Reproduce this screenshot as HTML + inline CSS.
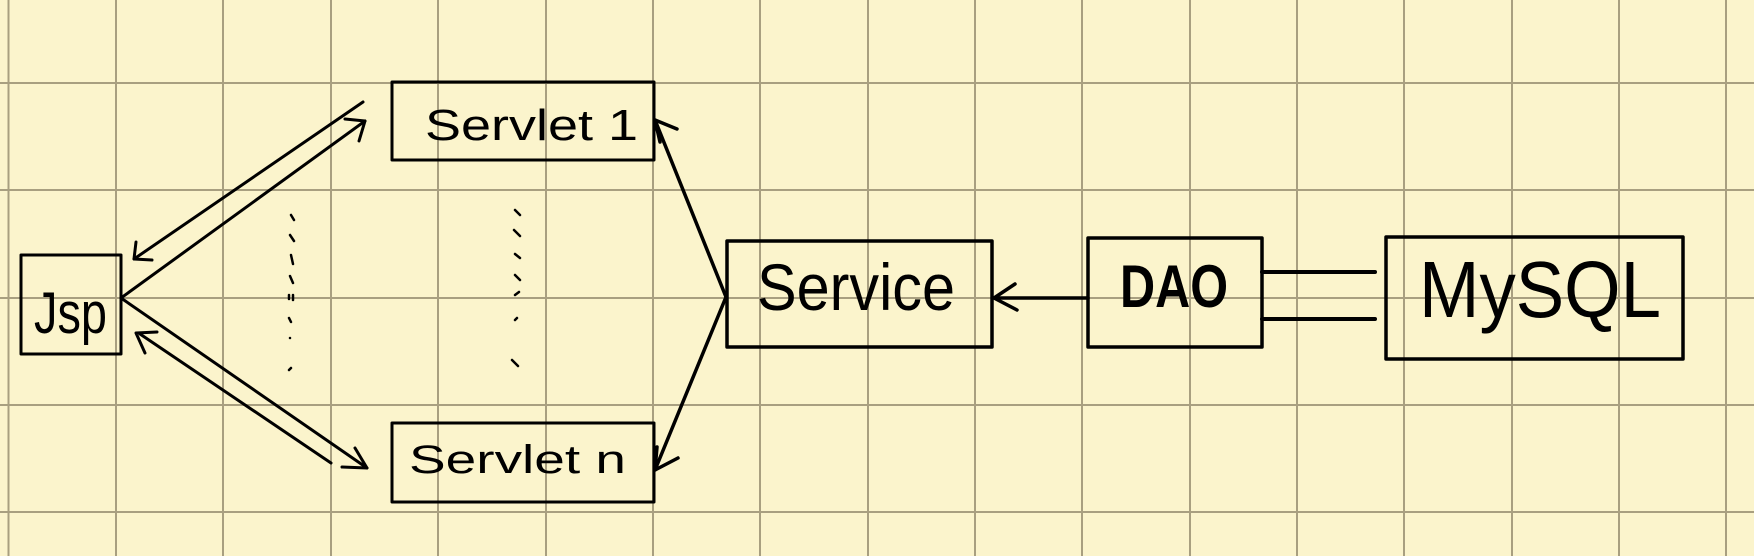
<!DOCTYPE html>
<html><head><meta charset="utf-8"><style>
html,body{margin:0;padding:0;background:#fbf4cc;}
svg{display:block;}
text{font-family:"Liberation Sans",sans-serif;fill:#000;}
</style></head><body>
<svg width="1754" height="556" viewBox="0 0 1754 556" xmlns="http://www.w3.org/2000/svg">
<rect width="1754" height="556" fill="#fbf4cc"/>
<g stroke="#a89f80" stroke-width="2">
<line x1="8.5" y1="0" x2="8.5" y2="556"/><line x1="116" y1="0" x2="116" y2="556"/><line x1="223" y1="0" x2="223" y2="556"/><line x1="331" y1="0" x2="331" y2="556"/><line x1="438" y1="0" x2="438" y2="556"/><line x1="546" y1="0" x2="546" y2="556"/><line x1="653" y1="0" x2="653" y2="556"/><line x1="760" y1="0" x2="760" y2="556"/><line x1="868" y1="0" x2="868" y2="556"/><line x1="975" y1="0" x2="975" y2="556"/><line x1="1082" y1="0" x2="1082" y2="556"/><line x1="1190" y1="0" x2="1190" y2="556"/><line x1="1297" y1="0" x2="1297" y2="556"/><line x1="1404" y1="0" x2="1404" y2="556"/><line x1="1512" y1="0" x2="1512" y2="556"/><line x1="1619" y1="0" x2="1619" y2="556"/><line x1="1726" y1="0" x2="1726" y2="556"/>
<line x1="0" y1="83" x2="1754" y2="83"/><line x1="0" y1="190" x2="1754" y2="190"/><line x1="0" y1="298" x2="1754" y2="298"/><line x1="0" y1="405" x2="1754" y2="405"/><line x1="0" y1="512" x2="1754" y2="512"/>
</g>
<g fill="none" stroke="#000" stroke-width="3" stroke-linecap="round" stroke-linejoin="round">
<rect x="21" y="255" width="100" height="99"/>
<rect x="392" y="82" width="262" height="78"/>
<rect x="392" y="423" width="262" height="79"/>
<rect x="727" y="241" width="265" height="106" stroke-width="3.5"/>
<rect x="1088" y="238" width="174" height="109" stroke-width="3.5"/>
<rect x="1386" y="237" width="297" height="122" stroke-width="3.5"/>
<line x1="363" y1="102" x2="134" y2="259"/><polyline points="136,242 134,259 152,260"/>
<line x1="121" y1="298" x2="365" y2="121"/><polyline points="345,119 365,121 359,141"/>
<line x1="121" y1="298" x2="367" y2="468"/><polyline points="355,448 367,468 342,467"/>
<line x1="331" y1="463" x2="140" y2="334"/><polyline points="157,332 136,333 145,353"/>
<line x1="726" y1="297" x2="655" y2="120" stroke-width="3.5"/><polyline points="660,142 655,120 677,129" stroke-width="3.5"/>
<line x1="726" y1="297" x2="655" y2="470" stroke-width="3.5"/><polyline points="657,447 655,470 678,458" stroke-width="3.5"/>
<line x1="1088" y1="298" x2="994" y2="298" stroke-width="3.5"/><polyline points="1015,284 994,298 1017,310" stroke-width="3.5"/>
<line x1="1262" y1="272" x2="1375" y2="272" stroke-width="4"/>
<line x1="1262" y1="319" x2="1375" y2="319" stroke-width="4"/>
</g>
<g fill="none" stroke="#000" stroke-width="2.5" stroke-linecap="round">
<path d="M291 215 l3 5 M290 235 l4 6 M291 255 l2 9 M290 276 l3 7 M289 295 v4 M293 295 v5 M289 318 l2 4 M290 338 v0 M289 370 l2 -2"/>
<path d="M515 210 l5 5 M514 230 l6 6 M515 254 l5 4 M515 275 l5 5 M515 295 l4 -3 M515 320 l2 -2 M512 360 l6 6"/>
</g>
<text x="34" y="333" font-size="58" textLength="73" lengthAdjust="spacingAndGlyphs">Jsp</text>
<text x="425" y="140" font-size="44" textLength="213" lengthAdjust="spacingAndGlyphs">Servlet 1</text>
<text x="409" y="473" font-size="40" textLength="217" lengthAdjust="spacingAndGlyphs">Servlet n</text>
<text x="757" y="310" font-size="66" textLength="198" lengthAdjust="spacingAndGlyphs">Service</text>
<text x="1120" y="307" font-size="60" font-weight="bold" textLength="108" lengthAdjust="spacingAndGlyphs">DAO</text>
<text x="1419" y="317" font-size="80" textLength="242" lengthAdjust="spacingAndGlyphs">MySQL</text>
</svg>
</body></html>
